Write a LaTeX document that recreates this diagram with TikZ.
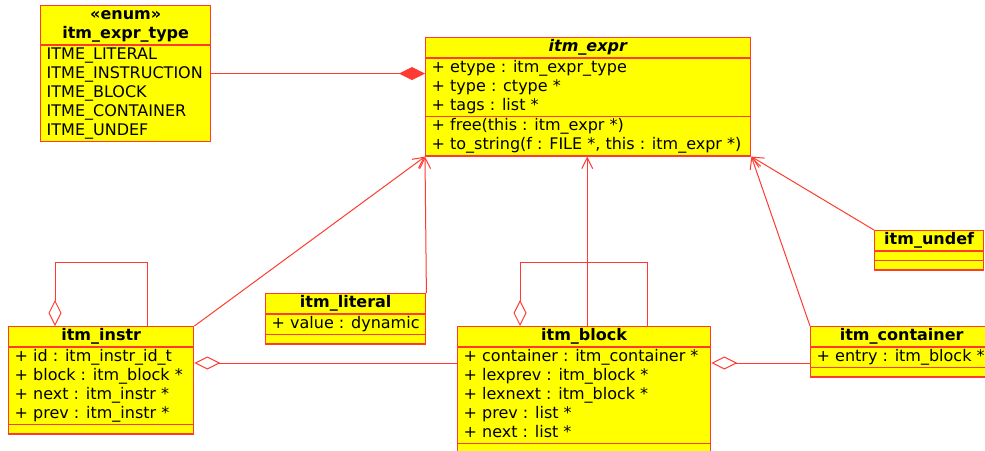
\documentclass[tikz,border=0pt]{standalone}
\usepackage{fontspec}
\setmainfont{DejaVu Sans}
\usepackage{tikz}
\usetikzlibrary{arrows.meta,shapes.multipart}
\definecolor{umlred}{HTML}{FF3A30}
\definecolor{umlfill}{HTML}{FFFF00}
\newcommand{\mem}[1]{\strut+ #1}

\begin{document}
\begin{tikzpicture}[
      x=1pt, y=-1pt,
      every node/.style={font=\fontsize{16}{19}\selectfont},
      cls/.style={rectangle split, rectangle split parts=3, draw=umlred, fill=umlfill,
                  line width=1.4pt, anchor=north west, inner xsep=6pt, inner ysep=0pt,
                  align=left, rectangle split part align={center,left,left},
                  rectangle split empty part height=8pt, rectangle split empty part depth=0pt},
      gen/.style={-{Straight Barb[length=11pt, width=11pt]}, umlred, line width=1pt},
      agg/.style={-{Diamond[open, length=26pt, width=13pt]}, umlred, line width=1pt},
      comp/.style={-{Diamond[length=26pt, width=13pt]}, umlred, line width=1pt}
  ]
    \useasboundingbox (0,0) rectangle (985,450);

    % --- Classes ---
    \node[cls, rectangle split parts=2, minimum width=170pt] (exprtype) at (40,5)
          {\begin{tabular}{@{}c@{}}\textbf{«enum»}\\\textbf{itm\_expr\_type}\end{tabular}
           \nodepart{two}\strut ITME\_LITERAL\\\strut ITME\_INSTRUCTION\\\strut ITME\_BLOCK\\
           \strut ITME\_CONTAINER\\\strut ITME\_UNDEF};

    \node[cls, minimum width=325pt] (expr) at (425,37)
          {\strut\textbf{\textit{itm\_expr}}
           \nodepart{two}\mem{etype : itm\_expr\_type}\\\mem{type : ctype *}\\\mem{tags : list *}
           \nodepart{three}\mem{free(this : itm\_expr *)}\\\mem{to\_string(f : FILE *, this : itm\_expr *)}};

    \node[cls, minimum width=185pt] (instr) at (8,326)
          {\strut\textbf{itm\_instr}
           \nodepart{two}\mem{id : itm\_instr\_id\_t}\\\mem{block : itm\_block *}\\
           \mem{next : itm\_instr *}\\\mem{prev : itm\_instr *}
           \nodepart{three}};

    \node[cls, minimum width=160pt] (literal) at (265,293)
          {\strut\textbf{itm\_literal}
           \nodepart{two}\mem{value : dynamic}
           \nodepart{three}};

    \node[cls, minimum width=253pt] (block) at (457,326)
          {\strut\textbf{itm\_block}
           \nodepart{two}\mem{container : itm\_container *}\\\mem{lexprev : itm\_block *}\\
           \mem{lexnext : itm\_block *}\\\mem{prev : list *}\\\mem{next : list *}
           \nodepart{three}};

    \node[cls, minimum width=182pt] (container) at (810,326)
          {\strut\textbf{itm\_container}
           \nodepart{two}\mem{entry : itm\_block *}
           \nodepart{three}};

    \node[cls, minimum width=109pt] (undef) at (874,230)
          {\strut\textbf{itm\_undef}
           \nodepart{two}
           \nodepart{three}};

    % --- Generalizations ---
    \draw[gen] (instr.north east) -- (expr.south west);
    \draw[gen] (literal.north east) -- (expr.south west);
    \draw[gen] ([xshift=3pt]block.north) -- ([xshift=3pt]block.north |- expr.south);
    \draw[gen] (container.north west) -- (expr.south east);
    \draw[gen] (undef.north west) -- (expr.south east);

    % --- Composition ---
    \draw[comp] (exprtype.east) -- (exprtype.east -| expr.west);

    % --- Aggregations ---
    \coordinate (aggy) at (0,363);
    \draw[agg] (block.west |- aggy) -- (instr.east |- aggy);
    \draw[agg] (container.west |- aggy) -- (block.east |- aggy);

    % self references
    \draw[agg] ([xshift=139pt]instr.north west) -- ++(0,-64) -| ([xshift=47pt]instr.north west);
    \draw[agg] ([xshift=190pt]block.north west) -- ++(0,-64) -| ([xshift=63pt]block.north west);

  \end{tikzpicture}
\end{document}
